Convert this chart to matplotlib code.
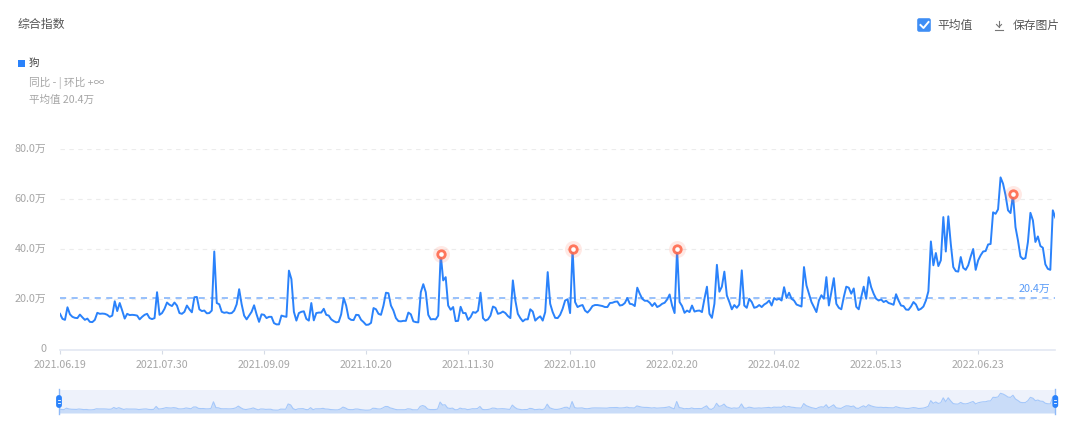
import numpy as np
import pandas as pd
import matplotlib
matplotlib.use("Agg")
import matplotlib.pyplot as plt
from matplotlib.patches import FancyBboxPatch, Rectangle

plt.rcParams['font.family'] = ['Noto Sans CJK SC', 'DejaVu Sans']

# daily index values, in units of 10k (万), starting 2021.06.19
values = [
    14.2, 12.2, 11.8, 16.8, 14.0, 13.0, 12.6, 12.5, 13.9, 12.8,
    11.8, 12.3, 11.0, 10.9, 11.8, 14.6, 14.2, 14.3, 14.2, 13.8,
    13.0, 13.5, 19.2, 15.3, 18.5, 15.5, 12.3, 14.2, 13.7, 13.8,
    13.7, 13.5, 12.0, 13.0, 13.8, 14.2, 12.5, 12.1, 12.5, 22.8,
    13.8, 14.5, 16.2, 18.7, 17.8, 17.3, 18.7, 17.5, 14.5, 14.2,
    15.0, 17.5, 16.0, 14.8, 20.8, 20.9, 16.0, 15.3, 15.5, 14.4,
    14.5, 15.5, 39.0, 18.5, 18.0, 15.0, 14.6, 14.8, 14.4, 14.5,
    15.5, 18.0, 24.0, 18.0, 13.5, 12.0, 13.5, 15.0, 17.6, 14.0,
    11.0, 14.0, 13.8, 12.5, 13.0, 13.0, 10.5, 10.0, 10.0, 13.5,
    13.2, 13.0, 31.4, 28.0, 15.0, 11.5, 14.5, 15.0, 15.2, 12.2,
    11.5, 18.5, 11.6, 14.5, 14.7, 14.7, 16.2, 13.8, 13.5, 12.0,
    11.3, 10.8, 11.0, 14.0, 20.5, 17.5, 12.5, 11.8, 11.7, 13.8,
    13.7, 11.8, 10.9, 9.8, 9.9, 10.6, 16.5, 16.0, 14.2, 13.8,
    17.5, 22.6, 22.4, 17.5, 15.5, 12.5, 11.3, 11.2, 11.4, 11.4,
    14.7, 14.0, 11.2, 10.9, 10.8, 22.8, 26.0, 22.8, 13.8, 12.0,
    12.1, 12.0, 13.5, 38.0, 27.5, 28.8, 17.5, 15.8, 16.9, 11.3,
    11.4, 17.0, 14.5, 14.5, 11.8, 12.9, 14.9, 14.6, 15.5, 22.6,
    12.5, 11.5, 12.0, 13.5, 17.1, 16.6, 14.2, 14.5, 15.1, 14.5,
    13.3, 12.5, 27.5, 19.5, 14.2, 12.5, 11.2, 12.0, 12.0, 16.0,
    15.1, 11.5, 12.5, 13.2, 11.5, 14.9, 30.8, 18.2, 14.9, 12.6,
    12.5, 13.8, 16.2, 19.5, 20.0, 14.5, 40.0, 18.9, 16.9, 17.4,
    17.7, 15.5, 14.7, 15.8, 17.3, 17.7, 17.7, 17.5, 17.3, 16.9,
    16.9, 18.5, 18.6, 19.0, 19.1, 17.5, 17.7, 18.5, 20.5, 18.2,
    18.0, 17.3, 24.6, 22.2, 20.2, 19.4, 19.4, 18.6, 17.3, 18.5,
    16.9, 17.4, 18.2, 18.6, 19.9, 21.9, 17.5, 14.5, 40.0, 18.9,
    17.3, 14.6, 15.5, 14.9, 17.5, 15.1, 15.4, 15.5, 14.9, 20.2,
    25.0, 14.2, 12.6, 18.2, 33.7, 23.0, 25.0, 31.0, 21.5, 18.9,
    16.0, 17.7, 16.6, 17.9, 31.5, 17.5, 16.6, 20.2, 18.9, 16.6,
    16.9, 17.7, 16.9, 17.9, 18.5, 19.5, 17.5, 20.5, 19.8, 20.2,
    19.5, 24.8, 20.5, 22.6, 20.2, 19.5, 17.9, 17.5, 17.1, 32.8,
    25.5, 22.2, 18.9, 16.9, 14.9, 19.5, 21.6, 20.2, 28.8, 17.5,
    22.8, 28.4, 18.2, 16.6, 16.0, 20.9, 25.0, 24.6, 22.2, 24.3,
    17.0, 16.0, 20.9, 25.0, 20.2, 28.8, 24.8, 22.2, 20.2, 19.5,
    19.9, 18.9, 19.4, 18.5, 18.2, 17.8, 22.0, 19.5, 17.5, 17.3,
    15.9, 15.8, 17.1, 18.9, 17.9, 15.7, 16.2, 17.1, 19.5, 23.2,
    43.0, 33.5, 38.4, 33.2, 35.5, 52.7, 39.0, 53.0, 42.0, 32.8,
    31.2, 31.0, 36.8, 32.5, 31.7, 33.5, 37.0, 40.0, 31.7, 35.5,
    37.5, 39.0, 39.2, 41.8, 42.0, 54.6, 54.0, 55.8, 68.5, 66.0,
    61.4, 55.4, 54.3, 61.7, 48.7, 43.4, 37.0, 36.0, 36.4, 42.8,
    54.4, 51.4, 42.8, 45.0, 41.2, 40.5, 33.9, 32.1, 31.7, 55.4,
    52.5,
]
peak_days = [153, 206, 248, 383]
mean_value = 20.4
y_ticks = [0, 20, 40, 60, 80]
y_labels = ["0", "20.0万", "40.0万", "60.0万", "80.0万"]
tick_step = 41

dates = pd.date_range("2021-06-19", periods=len(values), freq="D")
days = np.arange(len(values))
x_ticks = days[::tick_step]
x_labels = [dates[i].strftime("%Y.%m.%d") for i in x_ticks]

W, H = 1080, 430
BLUE = "#2a82fb"
GREY = "#a6a6a6"


def px_axes(left, top, right, bottom):
    return fig.add_axes([left / W, 1 - bottom / H, (right - left) / W, (bottom - top) / H])


fig = plt.figure(figsize=(W / 100, H / 100), dpi=100, facecolor="white")

# page furniture, drawn in pixel coordinates
ui = fig.add_axes([0, 0, 1, 1])
ui.set_xlim(0, W)
ui.set_ylim(H, 0)
ui.axis("off")
ui.text(18, 24, "综合指数", fontsize=8.6, color="#555555", va="center")
ui.add_patch(Rectangle((18, 60), 7, 7, color=BLUE, lw=0))
ui.text(29, 63, "狗", fontsize=7.6, color="#444444", va="center")
ui.text(29, 83, "同比 - | 环比 +∞", fontsize=7.7, color=GREY, va="center")
ui.text(29, 100, "平均值 20.4万", fontsize=7.6, color=GREY, va="center")
ui.add_patch(FancyBboxPatch((918, 19), 12, 12, boxstyle="round,pad=0.8,rounding_size=2",
                            fc="#3f8ef5", ec="none"))
ui.plot([920.5, 923.5, 928.5], [25, 28, 22], color="white", lw=1.4)
ui.text(937, 25, "平均值", fontsize=8.5, color="#555555", va="center")
ui.plot([999, 999], [21, 27], color="#777777", lw=0.8)
ui.plot([996.5, 999, 1001.5], [24.5, 27, 24.5], color="#777777", lw=0.8)
ui.plot([995, 1003], [29.5, 29.5], color="#777777", lw=0.8)
ui.text(1013, 25, "保存图片", fontsize=8.5, color="#555555", va="center")

# main chart
ax = px_axes(60, 148.5, 1055.3, 349.5)
ax.patch.set_alpha(0)
ax.plot(days, values, color=BLUE, lw=1.4, solid_joinstyle="round", zorder=3)
ax.axhline(mean_value, color="#8fbbfb", lw=1.3, dashes=(3.4, 3), zorder=2)
ax.text(len(values) - 3, mean_value + 1.9, "20.4万", color="#5a9cf8", fontsize=7.8,
        ha="right", va="bottom")
for d in peak_days:
    ax.scatter(d, values[d], s=150, color="#ff6a4d", alpha=0.14, lw=0, zorder=4)
    ax.scatter(d, values[d], s=55, color="#ff6a4d", alpha=0.9, lw=0, zorder=5)
    ax.scatter(d, values[d], s=11, color="white", lw=0, zorder=6)
ax.set_xlim(0, len(values) - 1)
ax.set_ylim(0, 80)
ax.set_xticks(x_ticks, x_labels)
ax.set_yticks(y_ticks, y_labels)
ax.tick_params(axis="x", colors="#d5dbe6", length=3, width=0.8, labelcolor=GREY,
               labelsize=7.6, pad=4.5)
ax.tick_params(axis="y", length=0, labelcolor=GREY, labelsize=7.8, pad=10)
for label in ax.get_yticklabels():
    label.set_y(label.get_position()[1])
    label.set_verticalalignment("center")
ax.grid(axis="y", color="#ececec", lw=0.8, dashes=(4, 4))
ax.set_axisbelow(True)
for side in ["top", "left", "right"]:
    ax.spines[side].set_visible(False)
ax.spines["bottom"].set_color("#e3e8f2")
ax.spines["bottom"].set_linewidth(1.2)
ax.spines["bottom"].set_zorder(1)
ax.yaxis.get_gridlines()[0].set_visible(False)

# range slider underneath
sl = px_axes(59, 390, 1055.3, 413)
sl.set_facecolor("#eef2fb")
sl.fill_between(days, values, color="#c9dcf8", lw=0)
sl.plot(days, values, color="#a5c8fa", lw=0.8)
sl.set_xlim(0, len(values) - 1)
sl.set_ylim(0, 80)
sl.set_xticks([])
sl.set_yticks([])
for spine in sl.spines.values():
    spine.set_visible(False)

for hx in [59, 1055.3]:
    ui.plot([hx, hx], [389, 414], color="#8fb9f7", lw=1, zorder=5)
    ui.add_patch(FancyBboxPatch((hx - 1.5, 396.5), 3, 10, boxstyle="round,pad=1.4,rounding_size=2.8",
                                fc=BLUE, ec="none", zorder=6))
    ui.plot([hx - 1, hx + 1], [400, 400], color="white", lw=0.6, zorder=7)
    ui.plot([hx - 1, hx + 1], [403, 403], color="white", lw=0.6, zorder=7)
ui.set_zorder(5)

fig.savefig("out.png", dpi=100)
